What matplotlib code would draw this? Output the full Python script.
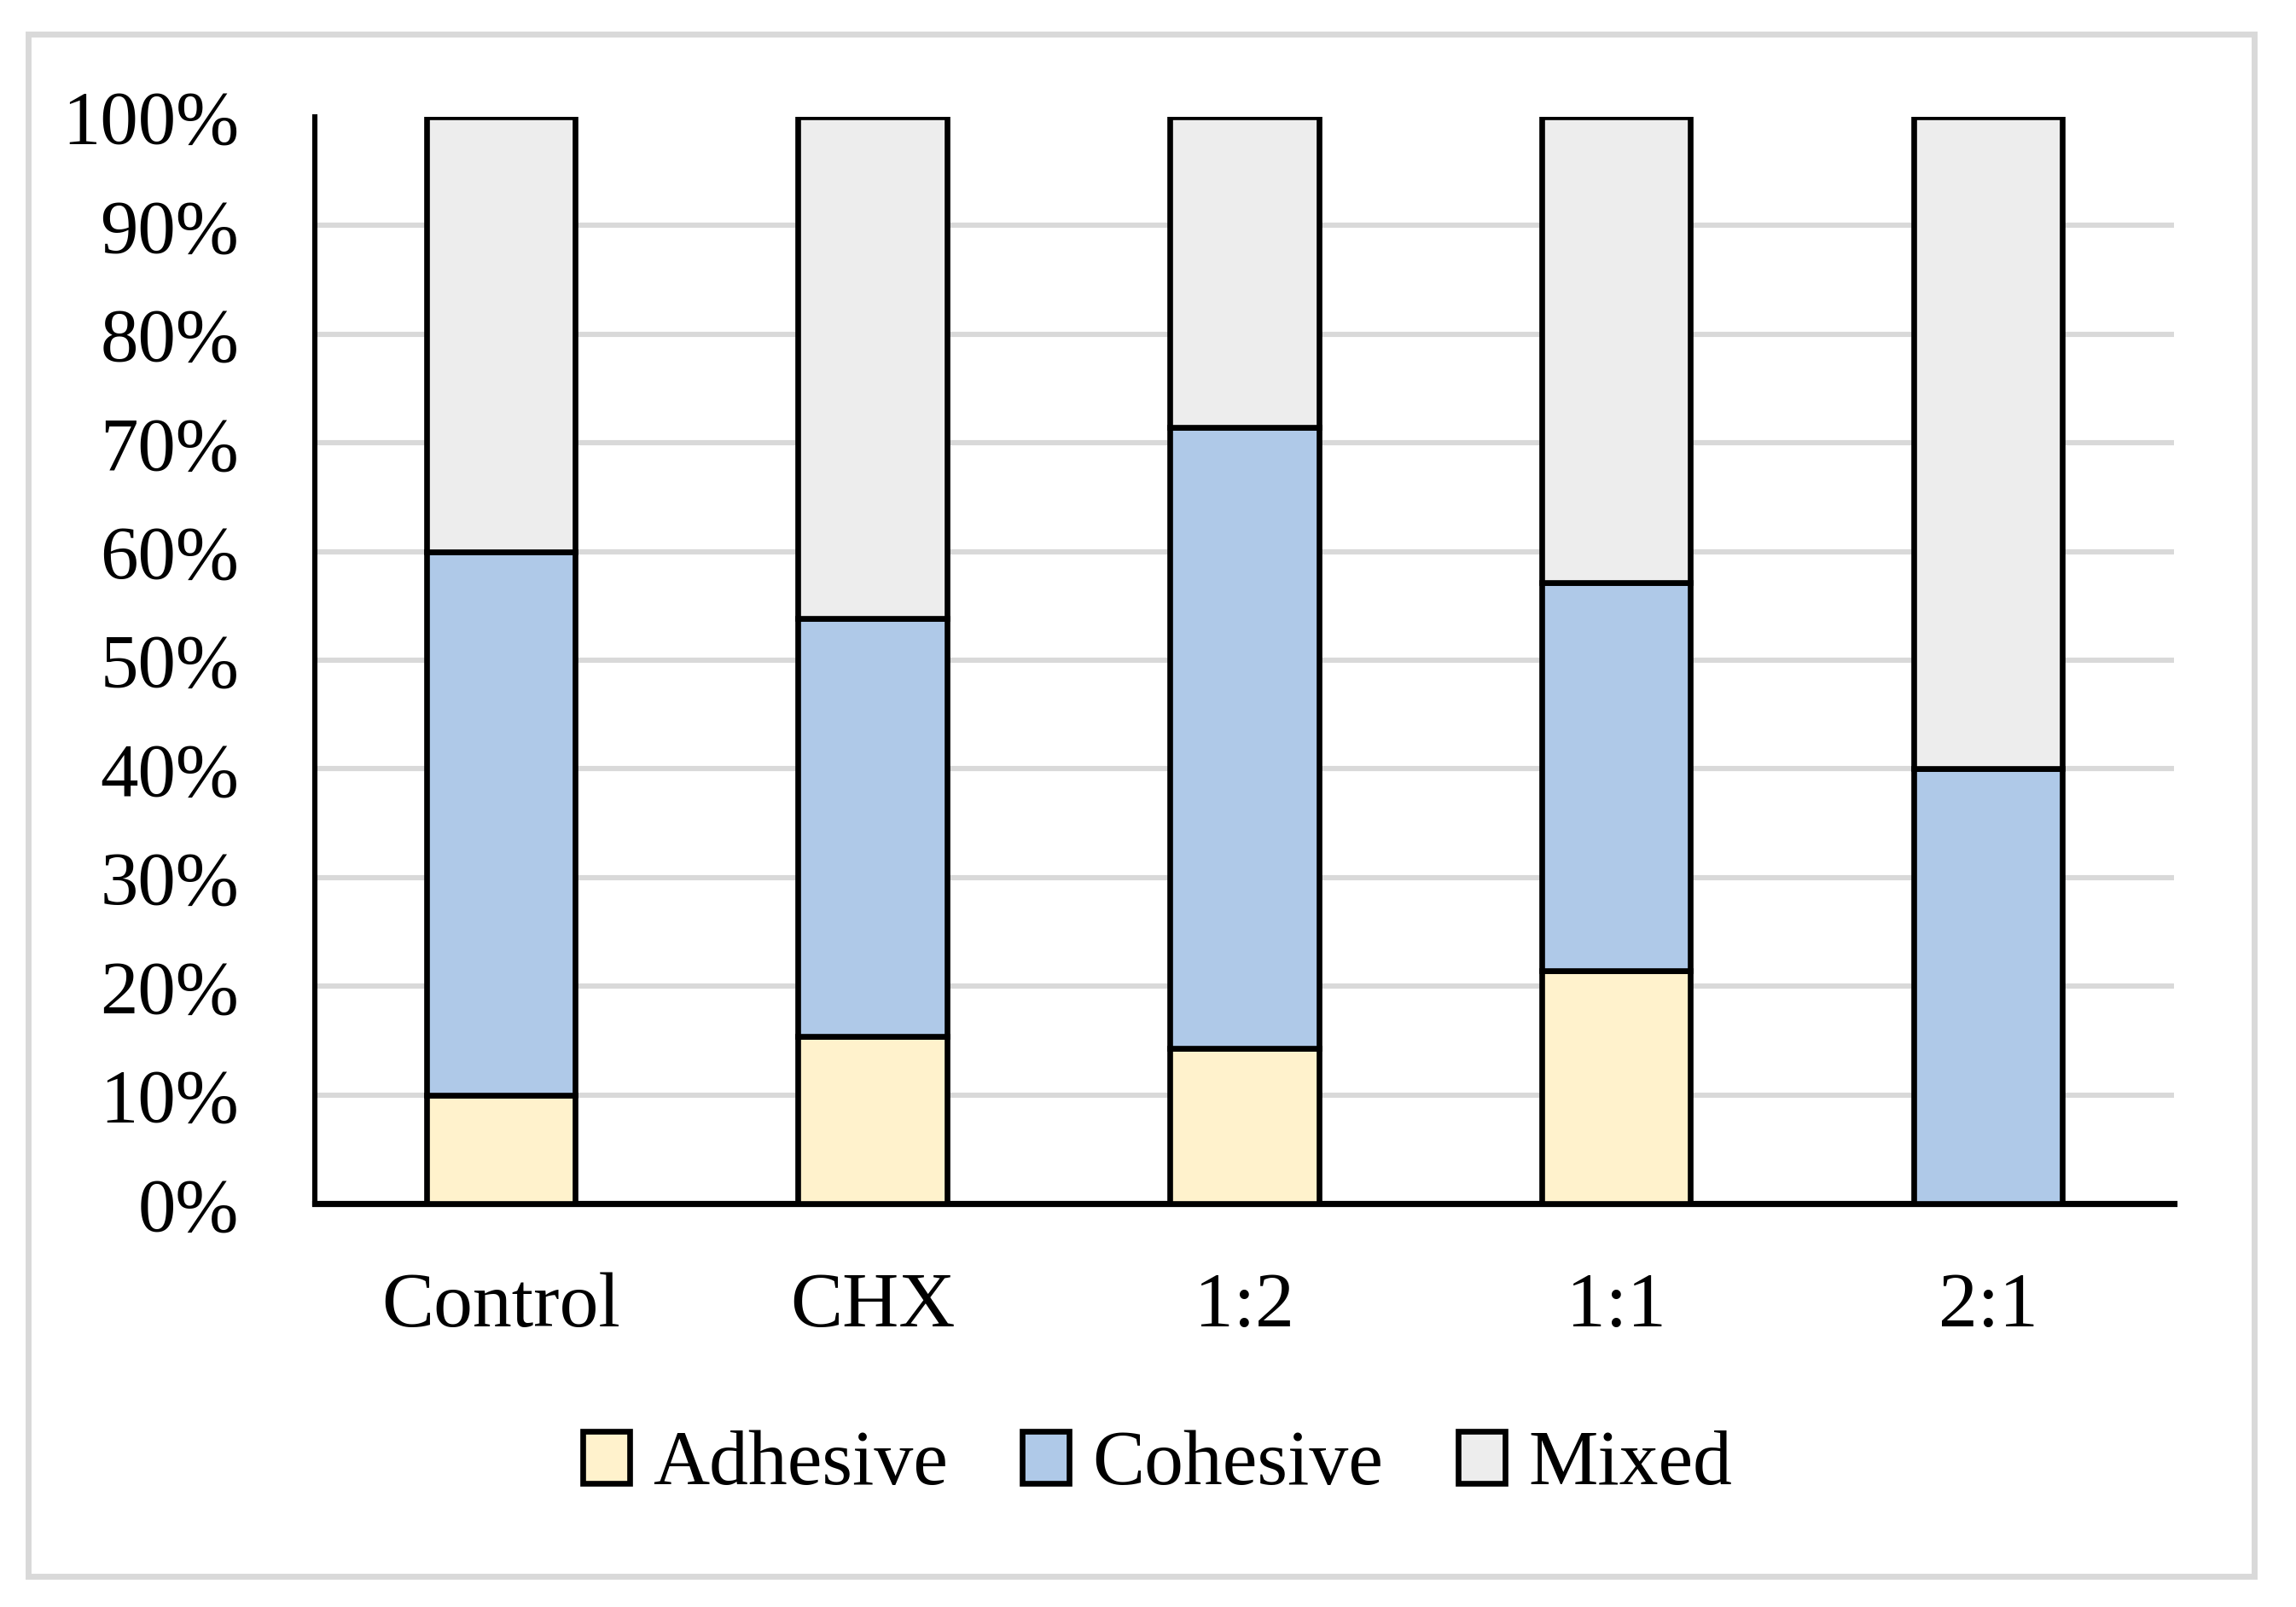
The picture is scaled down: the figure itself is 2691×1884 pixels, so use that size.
import matplotlib.pyplot as plt
from matplotlib.patches import Rectangle

# failure mode percentages per group
groups = ['Control', 'CHX', '1:2', '1:1', '2:1']
adhesive = [10.0, 15.38, 14.29, 21.43, 0.0]
cohesive = [50.0, 38.46, 57.14, 35.71, 40.0]
mixed = [40.0, 46.15, 28.57, 42.86, 60.0]
yticks = [0, 10, 20, 30, 40, 50, 60, 70, 80, 90, 100]

plt.rcParams['font.family'] = ['Liberation Serif', 'DejaVu Serif']

fig = plt.figure(figsize=(13.455, 9.42), dpi=200)
ax = fig.add_axes([0.1371, 0.251, 0.8097, 0.6763])

x = list(range(len(groups)))
w = 0.4
bottom2 = [a + c for a, c in zip(adhesive, cohesive)]
ax.bar(x, adhesive, w, color='#FFF2CC', edgecolor='black', linewidth=2.4, label='Adhesive', zorder=3)
ax.bar(x, cohesive, w, bottom=adhesive, color='#AFC9E8', edgecolor='black', linewidth=2.4, label='Cohesive', zorder=3)
ax.bar(x, mixed, w, bottom=bottom2, color='#EDEDED', edgecolor='black', linewidth=2.4, label='Mixed', zorder=3)

ax.set_xlim(-0.5, len(groups) - 0.5)
ax.set_ylim(0, 100)
ax.set_yticks(yticks)
ax.set_yticklabels([str(v) + '%' for v in yticks])
ax.set_xticks(x)
ax.set_xticklabels(groups)
ax.tick_params(axis='y', length=0, pad=32, labelsize=32)
ax.tick_params(axis='x', length=0, pad=29, labelsize=33)

ax.yaxis.grid(True, color='#D9D9D9', linewidth=2.2)
ax.set_axisbelow(True)
gl = ax.get_ygridlines()
gl[0].set_visible(False)
gl[-1].set_visible(False)

for s in ['top', 'right']:
    ax.spines[s].set_visible(False)
ax.spines['left'].set_linewidth(2.2)
ax.spines['bottom'].set_linewidth(2.6)

fig.legend(loc='center', bbox_to_anchor=(0.504, 0.088), ncol=3, frameon=False,
           fontsize=33, handlelength=0.6, handleheight=0.65,
           handletextpad=0.3, columnspacing=0.95)

# light grey frame around the chart
fig.patches.append(Rectangle((33 / 2691, 1 - 1848 / 1884), (2642 - 33) / 2691, (1848 - 40) / 1884,
                             transform=fig.transFigure, fill=False,
                             edgecolor='#D9D9D9', linewidth=2.5))

fig.savefig('out.png', dpi=200)
